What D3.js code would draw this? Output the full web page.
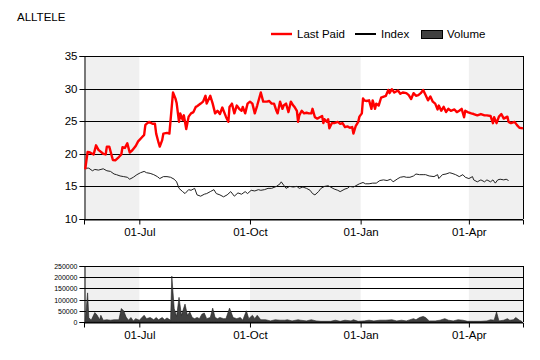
<!DOCTYPE html>
<html>
<head>
<meta charset="utf-8">
<script src="https://cdn.jsdelivr.net/npm/d3@7"></script>
<style>
  body { margin: 0; background: #fff; }
  svg { display: block; font-family: "Liberation Sans", Arial, sans-serif; }
</style>
</head>
<body>
<script>
// ALLTELE: last paid vs index, with daily volume underneath

var title = "ALLTELE";
var seriesNames = ["Last Paid", "Index", "Volume"];

var lastPaidDates = ["2012-05-17","2012-05-19","2012-05-21","2012-05-24","2012-05-26","2012-05-28","2012-06-01","2012-06-03","2012-06-04","2012-06-06",
  "2012-06-09","2012-06-11","2012-06-14","2012-06-16","2012-06-17","2012-06-19","2012-06-21","2012-06-23","2012-06-25","2012-06-28",
  "2012-06-30","2012-07-03","2012-07-05","2012-07-06","2012-07-07","2012-07-09","2012-07-12","2012-07-14","2012-07-15","2012-07-17",
  "2012-07-18","2012-07-20","2012-07-21","2012-07-24","2012-07-26","2012-07-27","2012-07-29","2012-07-31","2012-08-01","2012-08-03",
  "2012-08-04","2012-08-06","2012-08-07","2012-08-09","2012-08-11","2012-08-13","2012-08-15","2012-08-17","2012-08-18","2012-08-21",
  "2012-08-23","2012-08-25","2012-08-26","2012-08-29","2012-08-31","2012-09-02","2012-09-04","2012-09-06","2012-09-08","2012-09-11",
  "2012-09-13","2012-09-14","2012-09-16","2012-09-18","2012-09-20","2012-09-22","2012-09-24","2012-09-25","2012-09-27","2012-09-29",
  "2012-10-01","2012-10-03","2012-10-05","2012-10-07","2012-10-10","2012-10-12","2012-10-15","2012-10-17","2012-10-19","2012-10-21",
  "2012-10-23","2012-10-24","2012-10-26","2012-10-28","2012-10-29","2012-10-31","2012-11-02","2012-11-04","2012-11-06","2012-11-07",
  "2012-11-09","2012-11-10","2012-11-11","2012-11-13","2012-11-15","2012-11-17","2012-11-19","2012-11-21","2012-11-22","2012-11-24",
  "2012-11-26","2012-11-28","2012-11-30","2012-12-01","2012-12-02","2012-12-04","2012-12-05","2012-12-06","2012-12-08","2012-12-10",
  "2012-12-13","2012-12-15","2012-12-17","2012-12-19","2012-12-21","2012-12-23","2012-12-25","2012-12-26","2012-12-28","2012-12-30",
  "2012-12-31","2013-01-02","2013-01-03","2013-01-04","2013-01-06","2013-01-08","2013-01-10","2013-01-11","2013-01-13","2013-01-14",
  "2013-01-16","2013-01-18","2013-01-22","2013-01-24","2013-01-25","2013-01-27","2013-01-29","2013-02-01","2013-02-03","2013-02-05",
  "2013-02-08","2013-02-10","2013-02-12","2013-02-14","2013-02-16","2013-02-18","2013-02-20","2013-02-22","2013-02-24","2013-02-26",
  "2013-02-28","2013-03-02","2013-03-04","2013-03-06","2013-03-07","2013-03-09","2013-03-11","2013-03-13","2013-03-15","2013-03-17",
  "2013-03-20","2013-03-22","2013-03-24","2013-03-26","2013-03-28","2013-03-29","2013-03-31","2013-04-03","2013-04-05","2013-04-08",
  "2013-04-11","2013-04-14","2013-04-16","2013-04-19","2013-04-21","2013-04-22","2013-04-24","2013-04-26","2013-04-28","2013-04-30",
  "2013-05-03","2013-05-04","2013-05-06","2013-05-09","2013-05-11","2013-05-13","2013-05-16"];
var lastPaid = [17.6,20.3,20.2,19.9,21.3,20.6,20.0,19.9,21.1,21.1,
  19.05,19.0,19.5,19.9,21.0,20.9,21.6,20.2,20.5,21.2,
  21.9,22.5,22.9,24.4,24.6,24.9,24.6,24.6,23.1,21.7,
  21.1,22.1,23.1,23.2,23.1,25.2,29.4,28.5,27.8,24.9,
  26.2,25.2,25.9,23.8,25.7,26.2,26.4,27.2,27.3,27.7,
  28.0,28.9,27.7,28.9,27.7,26.2,26.6,26.1,27.1,25.7,
  24.9,27.2,27.7,26.2,27.4,26.9,26.6,27.2,26.2,27.7,
  28.0,27.7,26.2,27.4,29.4,28.0,28.0,28.1,27.7,27.7,
  26.6,26.2,28.0,26.9,27.4,27.7,26.4,28.0,27.4,27.2,
  26.6,24.9,25.9,26.6,26.2,26.3,26.2,26.2,26.9,25.6,
  25.4,25.6,25.8,24.7,25.3,24.9,25.3,23.9,24.7,24.7,
  24.9,24.6,24.7,24.1,24.2,24.0,24.1,23.1,24.3,24.9,
  25.7,26.2,28.5,28.2,28.1,28.2,26.9,28.2,26.9,27.7,
  27.4,28.6,28.9,29.8,29.3,29.9,29.4,29.7,29.2,29.4,
  29.3,29.0,28.4,29.3,28.9,29.0,29.3,29.8,29.0,28.2,
  28.8,28.0,27.7,26.8,27.4,26.6,27.2,26.4,26.9,26.6,
  26.8,26.4,26.6,26.9,25.6,26.6,26.4,26.2,26.1,25.9,
  26.1,25.9,25.9,25.8,24.7,25.6,24.7,25.7,26.1,25.4,
  25.7,24.9,24.7,24.9,24.4,24.0,23.9];

var indexDates = ["2012-05-17","2012-05-20","2012-05-23","2012-05-25","2012-05-28","2012-06-01","2012-06-04","2012-06-07","2012-06-10","2012-06-12",
  "2012-06-15","2012-06-18","2012-06-21","2012-06-23","2012-06-26","2012-06-29","2012-07-02","2012-07-05","2012-07-07","2012-07-10",
  "2012-07-13","2012-07-16","2012-07-18","2012-07-21","2012-07-24","2012-07-27","2012-07-30","2012-08-01","2012-08-03","2012-08-06",
  "2012-08-08","2012-08-11","2012-08-13","2012-08-16","2012-08-18","2012-08-21","2012-08-24","2012-08-26","2012-08-29","2012-09-01",
  "2012-09-03","2012-09-06","2012-09-09","2012-09-12","2012-09-15","2012-09-18","2012-09-21","2012-09-24","2012-09-27","2012-09-29",
  "2012-10-02","2012-10-05","2012-10-08","2012-10-10","2012-10-13","2012-10-16","2012-10-19","2012-10-23","2012-10-26","2012-10-27",
  "2012-10-29","2012-10-31","2012-11-03","2012-11-06","2012-11-09","2012-11-11","2012-11-14","2012-11-17","2012-11-20","2012-11-22",
  "2012-11-24","2012-11-27","2012-11-29","2012-12-02","2012-12-05","2012-12-07","2012-12-10","2012-12-13","2012-12-15","2012-12-19",
  "2012-12-21","2012-12-23","2012-12-26","2012-12-28","2012-12-31","2013-01-03","2013-01-05","2013-01-08","2013-01-11","2013-01-14",
  "2013-01-17","2013-01-20","2013-01-23","2013-01-26","2013-01-28","2013-02-01","2013-02-03","2013-02-06","2013-02-08","2013-02-11",
  "2013-02-14","2013-02-16","2013-02-19","2013-02-22","2013-02-24","2013-02-27","2013-03-03","2013-03-06","2013-03-07","2013-03-10",
  "2013-03-13","2013-03-16","2013-03-18","2013-03-21","2013-03-24","2013-03-27","2013-03-29","2013-04-01","2013-04-04","2013-04-05",
  "2013-04-08","2013-04-11","2013-04-14","2013-04-16","2013-04-19","2013-04-21","2013-04-23","2013-04-25","2013-04-27","2013-04-30",
  "2013-05-02","2013-05-04"];
var indexVals = [17.8,17.8,17.4,17.6,17.5,17.7,17.4,17.3,16.9,16.8,
  16.6,16.5,16.4,16.1,16.4,16.8,17.1,17.3,17.1,17.0,
  16.8,16.5,16.2,16.5,16.5,16.4,16.1,15.7,14.7,14.2,
  13.9,14.5,14.4,14.7,13.7,13.5,13.8,13.9,14.2,14.5,
  13.9,13.7,13.4,13.7,14.2,13.5,14.0,13.8,14.2,13.9,
  14.4,14.3,14.5,14.4,14.5,14.7,14.7,15.0,15.4,15.7,
  15.2,14.7,15.0,14.9,15.0,14.7,14.9,14.7,14.4,13.9,
  13.7,14.2,14.7,15.0,15.1,14.9,14.6,14.4,14.2,14.6,
  14.7,15.0,14.9,15.1,15.4,15.6,15.4,15.4,15.5,15.5,
  15.9,16.0,15.9,16.1,15.7,16.2,16.4,16.5,16.4,16.4,
  16.6,16.9,16.8,16.8,16.8,16.6,16.5,16.8,16.2,16.8,
  16.9,17.1,17.0,16.8,16.5,16.8,16.4,16.2,16.5,16.0,
  15.7,16.0,15.7,16.0,15.7,16.0,15.5,16.0,16.1,16.0,
  16.1,15.9];

var volumeDates = ["2012-05-17","2012-05-19","2012-05-20","2012-05-22","2012-05-25","2012-05-27","2012-05-29","2012-05-30","2012-06-01","2012-06-04",
  "2012-06-07","2012-06-10","2012-06-14","2012-06-16","2012-06-18","2012-06-20","2012-06-22","2012-06-24","2012-06-26","2012-06-28",
  "2012-07-01","2012-07-05","2012-07-07","2012-07-10","2012-07-13","2012-07-15","2012-07-17","2012-07-20","2012-07-22","2012-07-24",
  "2012-07-27","2012-07-28","2012-07-30","2012-08-01","2012-08-03","2012-08-05","2012-08-08","2012-08-10","2012-08-12","2012-08-14",
  "2012-08-16","2012-08-18","2012-08-20","2012-08-22","2012-08-24","2012-08-26","2012-08-29","2012-08-31","2012-09-02","2012-09-04",
  "2012-09-06","2012-09-09","2012-09-11","2012-09-14","2012-09-17","2012-09-20","2012-09-23","2012-09-25","2012-09-28","2012-09-30",
  "2012-10-03","2012-10-05","2012-10-07","2012-10-10","2012-10-14","2012-10-18","2012-10-22","2012-10-26","2012-10-30","2012-11-01",
  "2012-11-05","2012-11-10","2012-11-12","2012-11-17","2012-11-21","2012-11-25","2012-11-29","2012-12-07","2012-12-11","2012-12-15",
  "2012-12-19","2012-12-24","2012-12-26","2012-12-30","2013-01-04","2013-01-08","2013-01-12","2013-01-17","2013-01-22","2013-01-27",
  "2013-01-31","2013-02-04","2013-02-08","2013-02-14","2013-02-16","2013-02-19","2013-02-22","2013-02-24","2013-02-27","2013-03-04",
  "2013-03-08","2013-03-12","2013-03-15","2013-03-19","2013-03-23","2013-03-27","2013-03-31","2013-04-05","2013-04-11","2013-04-16",
  "2013-04-19","2013-04-22","2013-04-24","2013-04-26","2013-04-30","2013-05-03","2013-05-05","2013-05-08","2013-05-10","2013-05-13",
  "2013-05-15"];
var volume = [5000,130000,20000,8000,42000,30000,10000,30000,8000,10000,
  8000,10000,10000,60000,50000,22000,8000,20000,5000,15000,
  8000,30000,15000,20000,10000,20000,10000,20000,10000,18000,
  8000,205000,60000,25000,110000,30000,80000,30000,45000,20000,
  15000,20000,15000,35000,40000,15000,20000,62000,20000,15000,
  20000,15000,15000,62000,20000,15000,20000,8000,50000,15000,
  30000,15000,30000,10000,10000,5000,10000,8000,8000,10000,
  5000,10000,8000,5000,10000,5000,3000,3000,8000,3000,
  8000,5000,10000,3000,5000,8000,5000,8000,8000,10000,
  5000,8000,5000,15000,10000,20000,25000,20000,5000,5000,
  8000,15000,8000,5000,10000,8000,3000,3000,3000,5000,
  10000,8000,45000,5000,8000,15000,8000,10000,20000,8000,
  3000];

var xDomain = ["2012-05-16", "2013-05-16"];
// alternate quarter shading: grey, white, grey, white, grey
var bandEdges = ["2012-05-16", "2012-07-01", "2012-10-01", "2013-01-01", "2013-04-01", "2013-05-16"];
var priceTicks = [10, 15, 20, 25, 30, 35];
var volumeTicks = [0, 50000, 100000, 150000, 200000, 250000];

var width = 540, height = 360;
var left = 84, right = 523;
var mainTop = 56, mainBottom = 219;
var volTop = 266, volBottom = 322;

var parse = d3.timeParse("%Y-%m-%d");
var fmt = d3.timeFormat("%d-%b");

function toPoints(dates, vals) {
  return dates.map(function(d, i) { return { date: parse(d), value: vals[i] }; });
}
var lpData = toPoints(lastPaidDates, lastPaid);
var ixData = toPoints(indexDates, indexVals);
var volData = toPoints(volumeDates, volume);

var svg = d3.select("body").append("svg")
  .attr("width", width)
  .attr("height", height);

svg.append("rect").attr("width", width).attr("height", height).attr("fill", "#fff");

var x = d3.scaleTime()
  .domain(xDomain.map(parse))
  .range([left, right]);
var yMain = d3.scaleLinear().domain([10, 35]).range([mainBottom, mainTop]);
var yVol = d3.scaleLinear().domain([0, 250000]).range([volBottom, volTop]);

var quarterTicks = x.ticks(d3.timeMonth.every(3));

// draws the shaded bands, gridlines and frame of one panel
function drawPanel(g, y, ticks, top, bottom, tickFont, tickFmt) {
  var bands = [];
  for (var i = 0; i < bandEdges.length - 1; i += 2) {
    bands.push([parse(bandEdges[i]), parse(bandEdges[i + 1])]);
  }
  g.append("g").selectAll("rect")
    .data(bands)
    .enter().append("rect")
    .attr("x", function(d) { return x(d[0]); })
    .attr("width", function(d) { return x(d[1]) - x(d[0]); })
    .attr("y", top)
    .attr("height", bottom - top)
    .attr("fill", "#f0f0f0");

  // horizontal gridlines
  g.append("g").selectAll("line")
    .data(ticks)
    .enter().append("line")
    .attr("x1", left)
    .attr("x2", right)
    .attr("y1", function(d) { return Math.round(y(d)) + 0.5; })
    .attr("y2", function(d) { return Math.round(y(d)) + 0.5; })
    .attr("stroke", "#000");

  // frame: top and right
  g.append("line")
    .attr("x1", right + 0.5).attr("x2", right + 0.5)
    .attr("y1", top).attr("y2", bottom)
    .attr("stroke", "#000");

  var yAxis = g.append("g")
    .attr("transform", "translate(" + (left + 0.5) + ",0)")
    .call(d3.axisLeft(y).tickValues(ticks).tickSize(5).tickPadding(2).tickFormat(tickFmt));
  yAxis.select(".domain").attr("stroke", "#000");
  yAxis.selectAll(".tick line").attr("stroke", "#000");
  yAxis.selectAll(".tick text")
    .attr("font-family", "Liberation Sans, Arial, sans-serif")
    .attr("font-size", tickFont)
    .attr("fill", "#000");
  yAxis.selectAll(".tick").attr("transform", function(d) {
    return "translate(0," + (Math.round(y(d)) + 0.5) + ")";
  });

  var xAxis = g.append("g")
    .attr("transform", "translate(0," + (Math.round(bottom) + 0.5) + ")")
    .call(d3.axisBottom(x).tickValues(quarterTicks).tickSize(5).tickPadding(3).tickFormat(fmt));
  xAxis.select(".domain").attr("stroke", "#000");
  xAxis.selectAll(".tick line").attr("stroke", "#000");
  xAxis.selectAll(".tick text")
    .attr("font-family", "Liberation Sans, Arial, sans-serif")
    .attr("font-size", "11.5px")
    .attr("fill", "#000");
}

var mainG = svg.append("g");
drawPanel(mainG, yMain, priceTicks, mainTop, mainBottom, "11.5px", d3.format("d"));

var volG = svg.append("g");
drawPanel(volG, yVol, volumeTicks, volTop, volBottom, "7px", d3.format("d"));

// volume area
var area = d3.area()
  .x(function(d) { return x(d.date); })
  .y0(yVol(0))
  .y1(function(d) { return yVol(d.value); });
volG.append("path")
  .datum(volData)
  .attr("d", area)
  .attr("fill", "#404040")
  .attr("stroke", "#202020")
  .attr("stroke-width", 0.6);

// index and last paid lines
var line = d3.line()
  .x(function(d) { return x(d.date); })
  .y(function(d) { return yMain(d.value); });

mainG.append("path")
  .datum(ixData)
  .attr("d", line)
  .attr("fill", "none")
  .attr("stroke", "#222")
  .attr("stroke-width", 1);

mainG.append("path")
  .datum(lpData)
  .attr("d", line)
  .attr("fill", "none")
  .attr("stroke", "#ff0000")
  .attr("stroke-width", 2.4)
  .attr("stroke-linejoin", "round");

// title
svg.append("text")
  .attr("x", 17)
  .attr("y", 21)
  .attr("font-size", "11.5px")
  .attr("fill", "#000")
  .text(title);

// legend
var legend = svg.append("g").attr("font-size", "11.5px");
var legendX = [271, 355, 421];
legend.append("line").attr("x1", legendX[0]).attr("x2", legendX[0] + 21)
  .attr("y1", 34).attr("y2", 34).attr("stroke", "#ff0000").attr("stroke-width", 2.4);
legend.append("line").attr("x1", legendX[1]).attr("x2", legendX[1] + 21)
  .attr("y1", 34).attr("y2", 34).attr("stroke", "#000").attr("stroke-width", 2);
legend.append("rect").attr("x", legendX[2] + 0.5).attr("y", 30.5)
  .attr("width", 21).attr("height", 8)
  .attr("fill", "#404040").attr("stroke", "#000");
legend.selectAll("text")
  .data(seriesNames)
  .enter().append("text")
  .attr("x", function(d, i) { return legendX[i] + 26; })
  .attr("y", 38)
  .attr("fill", "#000")
  .text(function(d) { return d; });
</script>
</body>
</html>
